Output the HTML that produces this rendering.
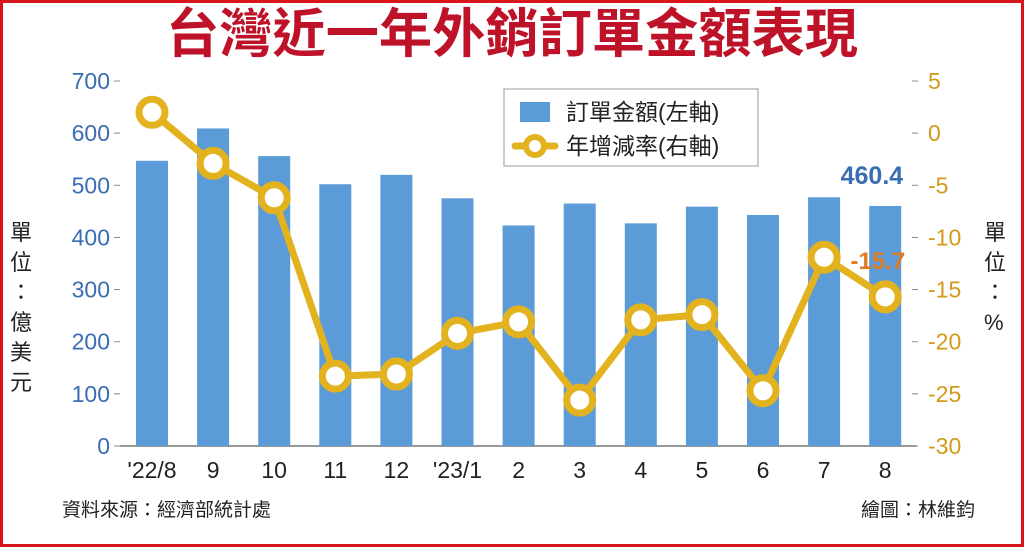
<!DOCTYPE html>
<html><head><meta charset="utf-8"><style>
html,body{margin:0;padding:0;background:#fff}
svg{display:block;font-family:"Liberation Sans","Noto Sans CJK TC",sans-serif}
</style></head><body>
<svg id="c" width="1024" height="547" viewBox="0 0 1024 547">
<rect x="1.5" y="1.5" width="1021" height="544" fill="#fff" stroke="#d8141c" stroke-width="3"/>
<text x="512" y="52" text-anchor="middle" font-size="53" font-weight="bold" fill="#be1229" textLength="692" lengthAdjust="spacingAndGlyphs">台灣近一年外銷訂單金額表現</text>
<g id="ax"></g>
<g id="bars"></g>
<g id="line"></g>
<rect x="504" y="89" width="254" height="77" fill="#fff" stroke="#999" stroke-width="1"/>
<rect x="520" y="102" width="30" height="20" fill="#5b9bd8"/>
<text x="566" y="120" font-size="23" fill="#222">訂單金額(左軸)</text>
<line x1="515" y1="146" x2="555" y2="146" stroke="#e3b21f" stroke-width="7" stroke-linecap="round"/>
<circle cx="535" cy="146" r="9" fill="#fff" stroke="#e3b21f" stroke-width="6"/>
<text x="566" y="154" font-size="23" fill="#222">年增減率(右軸)</text>
<text font-size="22" fill="#222"><tspan x="10" y="240">單</tspan><tspan x="10" y="270">位</tspan><tspan x="10" y="300">：</tspan><tspan x="10" y="330">億</tspan><tspan x="10" y="360">美</tspan><tspan x="10" y="390">元</tspan></text>
<text font-size="22" fill="#222"><tspan x="984" y="240">單</tspan><tspan x="984" y="270">位</tspan><tspan x="984" y="300">：</tspan><tspan x="984" y="330">%</tspan></text>
<text x="62" y="516" font-size="19" fill="#222">資料來源：經濟部統計處</text>
<text x="975" y="516" text-anchor="end" font-size="19" fill="#222">繪圖：林維鈞</text>
</svg>
<script>
const categories=["'22/8","9","10","11","12","'23/1","2","3","4","5","6","7","8"];
const amounts=[547,609,556,502,520,475,423,465,427,459,443,477,460.4];
const growth=[2.0,-2.9,-6.2,-23.3,-23.1,-19.2,-18.1,-25.6,-17.9,-17.4,-24.7,-11.9,-15.7];
const leftTicks=[0,100,200,300,400,500,600,700];
const rightTicks=[5,0,-5,-10,-15,-20,-25,-30];
const NS="http://www.w3.org/2000/svg";
const yL=v=>446-v*(365/700);
const yR=v=>81+(5-v)*(365/35);
const xC=i=>152+i*61.1;
function mk(tag,attrs,parent,txt){const e=document.createElementNS(NS,tag);for(const k in attrs)e.setAttribute(k,attrs[k]);if(txt!==undefined)e.textContent=txt;document.getElementById(parent).appendChild(e);return e;}
leftTicks.forEach(t=>{const e=mk('text',{x:110,y:yL(t)+8,'text-anchor':'end','font-size':23,fill:'#3a6db3'},'ax',String(t));


const l=mk('line',{x1:114,x2:120,y1:yL(t),y2:yL(t),stroke:'#888'},'ax');

});
rightTicks.forEach(t=>{const e=mk('text',{x:928,y:yR(t)+8,'font-size':23,fill:'#d39a1a'},'ax',String(t));


const l=mk('line',{x1:912,x2:918,y1:yR(t),y2:yR(t),stroke:'#888'},'ax');

});
const base=mk('line',{x1:120,x2:916,y1:446,y2:446,stroke:'#777','stroke-width':1.5},'ax');


categories.forEach((c,i)=>{const e=mk('text',{x:xC(i),y:478,'text-anchor':'middle','font-size':23,fill:'#222'},'ax',c);

});
amounts.forEach((v,i)=>{const r=mk('rect',{x:xC(i)-16,y:yL(v),width:32,height:446-yL(v),fill:'#5b9bd8'},'bars');

});
const pts=growth.map((v,i)=>xC(i)+','+yR(v)).join(' ');
const pl=mk('polyline',{points:pts,fill:'none',stroke:'#e3b21f','stroke-width':7,'stroke-linejoin':'round'},'line');


growth.forEach((v,i)=>{const c=mk('circle',{cx:xC(i),cy:yR(v),r:13,fill:'#fff',stroke:'#e3b21f','stroke-width':7},'line');

});
const n=amounts.length-1;
const a=mk('text',{x:xC(n)+18,y:yL(amounts[n])-22,'text-anchor':'end','font-size':25,'font-weight':'bold',fill:'#3a6db3'},'line',String(amounts[n]));


const g=mk('text',{x:xC(n)+20,y:yR(growth[n])-28,'text-anchor':'end','font-size':24,'font-weight':'bold',fill:'#e07b22'},'line',String(growth[n]));


</script>
</body></html>
